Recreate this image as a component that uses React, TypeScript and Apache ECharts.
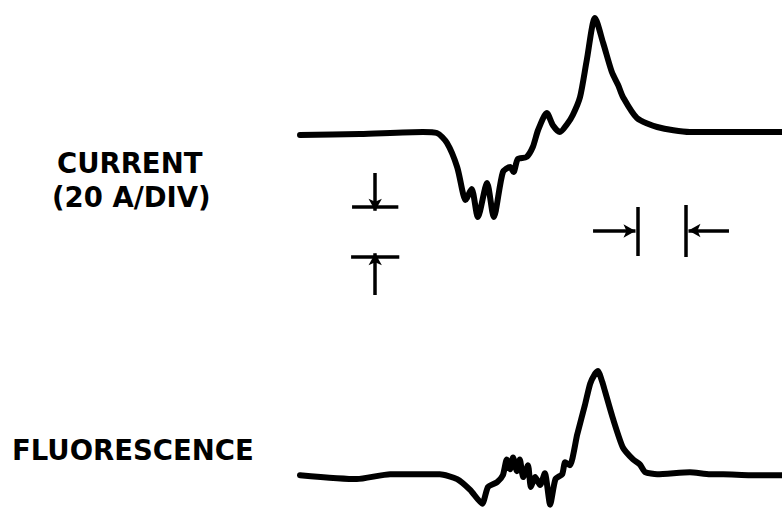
import React, { useEffect, useRef } from "react";
import * as echarts from "echarts";

// time in arbitrary units (10 units = 1 division)
const currentTime = [0, 12.4, 25.5, 28.4, 30.5, 32.6, 33.8, 34.3, 35.6, 36.9, 38.8, 40.2, 42.1, 43.6, 44.3, 45.2, 47.0, 48.3, 49.4, 51.2, 52.5, 53.9, 55.4, 56.6, 58.1, 59.5, 61.2, 62.9, 64.7, 66.0, 67.0, 69.9, 74.1, 80.9, 91.3, 100];
// current in A (20 A / div)
const currentValues = [-0.8, -0.4, 0.4, 0, -4, -13.6, -24, -26.8, -22.4, -33.6, -20, -33.6, -15.6, -13.6, -15.6, -10.4, -9.6, -5.6, 1.2, 8, 3, 0.4, 3.5, 7.2, 14.4, 29.2, 46, 36, 24.4, 19.2, 14.4, 6, 2.4, 0.4, 0.4, 0.4];

const fluorTime = [0, 11.8, 18.7, 29.0, 32.6, 35.3, 37.8, 39.0, 40.9, 42.1, 42.9, 43.6, 44.2, 45.0, 45.6, 46.3, 47.3, 47.9, 48.8, 49.8, 50.8, 51.9, 53.0, 54.4, 55.0, 56.0, 57.5, 59.1, 60.2, 61.2, 61.8, 62.7, 63.3, 64.9, 67.0, 69.1, 70.5, 71.6, 74.1, 80.9, 85.1, 87.8, 93.4, 100];
// fluorescence, arbitrary units
const fluorValues = [0, -1.6, 0.4, 0.4, -1.6, -6, -11.6, -4.8, -2.8, 0, 6.4, 2.4, 7.2, 1.6, 6.4, -0.8, 4, -4.8, -0.8, -4, 0.8, -12, -1.6, 0.4, 5.2, 4, 16.4, 28.4, 37.2, 41.2, 42.4, 38, 34, 23.2, 11.2, 6.4, 4.4, 1.2, 0.4, 1.2, 0.4, 0.4, 0, 0];

// scale markers: one vertical division (20 A) and one horizontal division (10 units)
const vDivTime = 15.6;
const vDivLow = -49.6;
const vDivHigh = -29.6;
const hDivStart = 70.1;
const hDivEnd = 80.1;
const hDivLevel = -39.2;

const labels = { current: "CURRENT", currentUnit: "(20 A/DIV)", fluor: "FLUORESCENCE" };

export default function App() {
  const ref = useRef<HTMLDivElement>(null);
  useEffect(() => {
    if (!ref.current) return;
    const chart = echarts.init(ref.current, null, { renderer: "svg" });
    const black = "#000";
    const font = "bold 27.5px 'DejaVu Sans'";
    const bar = (a: number[], b: number[]) => [
      { coord: a, symbol: "none" },
      { coord: b, symbol: "none" },
    ];
    const arrow = (a: number[], b: number[]) => [
      { coord: a, symbol: "none" },
      { coord: b, symbol: "arrow", symbolSize: [10, 12] },
    ];
    chart.setOption({
      animation: false,
      backgroundColor: "#fff",
      grid: [
        { left: 300, width: 482, top: 8, height: 300 },
        { left: 300, width: 482, top: 340, height: 175 },
      ],
      xAxis: [
        { type: "value", gridIndex: 0, min: 0, max: 100, show: false },
        { type: "value", gridIndex: 1, min: 0, max: 100, show: false },
      ],
      yAxis: [
        { type: "value", gridIndex: 0, min: -70, max: 50, show: false, splitLine: { show: false } },
        { type: "value", gridIndex: 1, min: -15, max: 55, show: false, splitLine: { show: false } },
      ],
      graphic: [
        { type: "text", left: 57, top: 149, style: { text: labels.current, font, fill: black } },
        { type: "text", left: 52, top: 183, style: { text: labels.currentUnit, font, fill: black } },
        { type: "text", left: 12, top: 436, style: { text: labels.fluor, font, fill: black } },
      ],
      series: [
        {
          type: "line",
          xAxisIndex: 0,
          yAxisIndex: 0,
          data: currentTime.map((t, i) => [t, currentValues[i]]),
          showSymbol: false,
          smooth: 0.25,
          lineStyle: { color: black, width: 6, cap: "round", join: "round" },
          markLine: {
            silent: true,
            label: { show: false },
            lineStyle: { color: black, width: 3.5, type: "solid" },
            data: [
              arrow([vDivTime, -16], [vDivTime, vDivHigh - 1.5]),
              bar([vDivTime - 4.8, vDivHigh], [vDivTime + 4.8, vDivHigh]),
              arrow([vDivTime, -64.8], [vDivTime, vDivLow + 1.5]),
              bar([vDivTime - 5, vDivLow], [vDivTime + 5, vDivLow]),
              arrow([60.8, hDivLevel], [hDivStart - 0.5, hDivLevel]),
              bar([hDivStart, vDivHigh], [hDivStart, vDivLow + 0.4]),
              arrow([89, hDivLevel + 0.2], [hDivEnd + 0.5, hDivLevel + 0.2]),
              bar([hDivEnd, vDivHigh + 0.8], [hDivEnd, vDivLow]),
            ],
          },
        },
        {
          type: "line",
          xAxisIndex: 1,
          yAxisIndex: 1,
          data: fluorTime.map((t, i) => [t, fluorValues[i]]),
          showSymbol: false,
          smooth: 0.2,
          lineStyle: { color: black, width: 6, cap: "round", join: "round" },
        },
      ],
    });
    return () => chart.dispose();
  }, []);
  return <div ref={ref} style={{ position: "fixed", left: 0, top: 0, width: 782, height: 512 }} />;
}
